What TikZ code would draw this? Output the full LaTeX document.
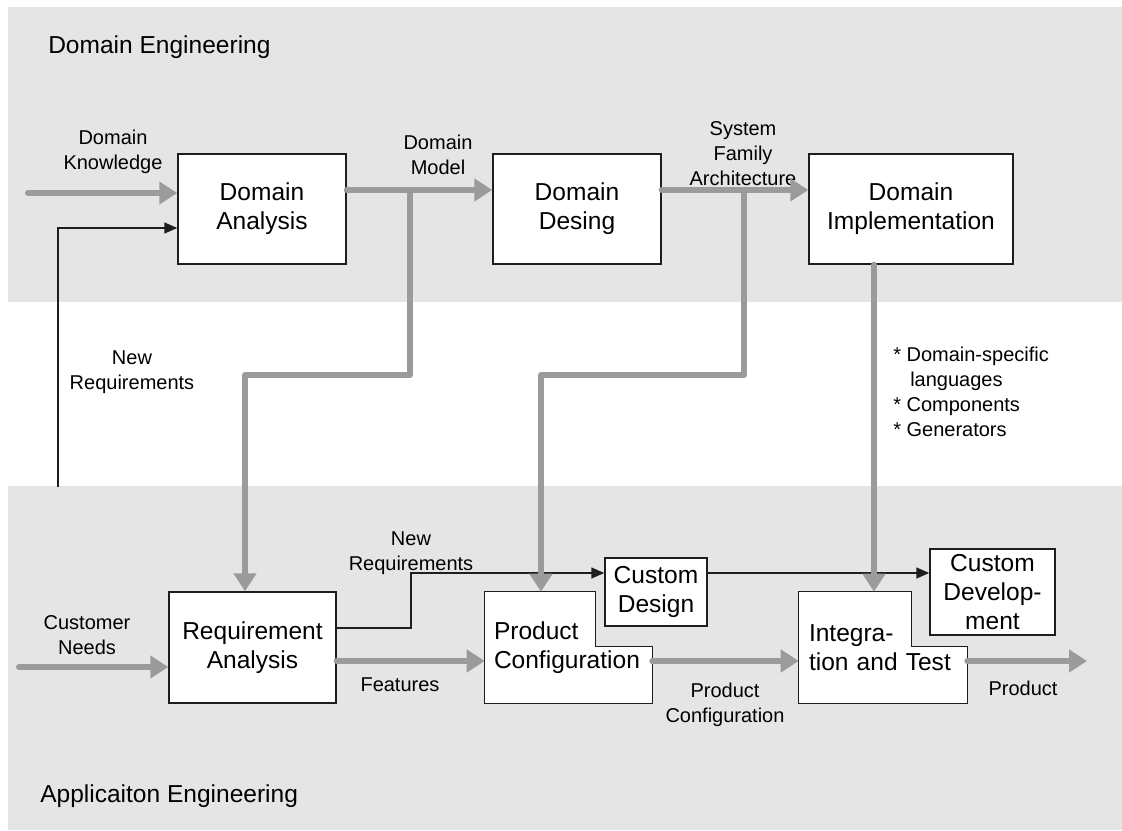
\documentclass[tikz,border=0pt]{standalone}
\usepackage{fontspec}
\setmainfont{Liberation Sans}
\usetikzlibrary{arrows.meta,calc}

\definecolor{bandgray}{RGB}{229,229,229}
\definecolor{flowgray}{RGB}{155,155,155}
\definecolor{edgeblack}{RGB}{30,30,30}

\newcommand\boxfont{\fontsize{18.4}{21.8}\selectfont}
\newcommand\lblfont{\fontsize{15}{18.75}\selectfont}

\pgfdeclarelayer{bands}
\pgfdeclarelayer{outlines}
\pgfsetlayers{bands,outlines,main}

\tikzset{
  boxsize/.style 2 args={minimum width=#1*0.75pt, minimum height=#2*0.75pt},
  stepbox/.style={draw=edgeblack, fill=white, line width=1.1pt, inner sep=0pt,
                  align=center, font=\boxfont},
  notchtext/.style={inner xsep=#1*0.75pt, inner ysep=0pt, align=left, font=\boxfont},
  notchline/.style={draw=edgeblack, fill=white, line width=1.1pt, line join=miter},
  lbl/.style={inner sep=0pt, align=center, font=\lblfont},
  bandtitle/.style={inner sep=0pt, anchor=west, font=\boxfont},
  flowarrow/.style={draw=flowgray, line width=4.5pt, line cap=round, line join=round,
                    -{Triangle[length=13.5pt,width=16.5pt]}},
  signal/.style={draw=edgeblack, line width=1.1pt,
                 -{Triangle[length=9.75pt,width=8.25pt]}},
}

\begin{document}
\begin{tikzpicture}[x=0.75pt,y=-0.75pt]
\useasboundingbox (0,0) rectangle (1122,831);

% the two engineering bands
\begin{pgfonlayer}{bands}
  \fill[white] (0,0) rectangle (1122,831);
  \fill[bandgray] (8,7) rectangle (1122,302);
  \fill[bandgray] (8,486) rectangle (1122,830);
\end{pgfonlayer}

\node[bandtitle] (deng) at (48,47) {Domain Engineering};
\node[bandtitle] (aeng) at (40,796) {Applicaiton Engineering};

% domain engineering steps
\node[stepbox, boxsize={168}{110}] (da) at (262,209) {Domain\\Analysis};
\node[stepbox, boxsize={168}{110}] (dd) at (577,209) {Domain\\Desing};
\node[stepbox, boxsize={204}{110}] (di) at (911,209) {Domain\\Implementation};

% application engineering steps
\node[stepbox, boxsize={167}{111}] (ra) at (252.5,647.5) {Requirement\\Analysis};
\node[notchtext=9, boxsize={167}{111}, text width=149*0.75pt] (pc) at (568.5,647.5) {Product\\Configuration};
\node[stepbox, boxsize={102}{68}] (cd) at (656,592) {Custom\\Design};
\node[notchtext=10, boxsize={168}{111}, text width=148*0.75pt] (it) at (883,647.5) {Integra-\\tion and Test};
\node[stepbox, boxsize={125}{86}] (cdev) at (992.5,592) {Custom\\Develop-\\ment};

% outlines of the two boxes with a cut corner
\begin{pgfonlayer}{outlines}
  \draw[notchline] (pc.north west) -- ++(111,0) |- ($(pc.north east)+(0,55)$)
        -- (pc.south east) -- (pc.south west) -- cycle;
  \draw[notchline] (it.north west) -- ++(113,0) |- ($(it.north east)+(0,55)$)
        -- (it.south east) -- (it.south west) -- cycle;
\end{pgfonlayer}

% labels
\node[lbl] (dklbl) at (113,152) {Domain\\Knowledge};
\node[lbl] (dmlbl) at (438,154.5) {Domain\\Model};
\node[lbl] (sfalbl) at (743,154) {System\\Family\\Architecture};
\node[lbl] (nrlbl) at (132,372) {New\\Requirements};
\node[lbl, anchor=west, align=left] (assets) at (893,392)
  {* Domain-specific\\\hspace*{12.75pt}languages\\* Components\\* Generators};
\node[lbl] (cnlbl) at (87,635) {Customer\\Needs};
\node[lbl] (nr2lbl) at (411,553) {New\\Requirements};
\node[lbl] (ftlbl) at (400,685) {Features};
\node[lbl] (pclbl) at (725,704.5) {Product\\Configuration};
\node[lbl] (prlbl) at (1023,688) {Product};

% helper coordinates for the lanes
\coordinate (dkin) at (28,193);
\coordinate (toplane) at (0,190);
\coordinate (dmtap) at (410,190);
\coordinate (dmjog) at (245,375);
\coordinate (sfatap) at (744,190);
\coordinate (sfajog) at (541,375);
\coordinate (ditap) at (874,0);
\coordinate (cnin) at (19,667);
\coordinate (midlane) at (0,661);
\coordinate (prodout) at (1087,661);
\coordinate (fbfoot) at (58,487);
\coordinate (fblane) at (0,228);
\coordinate (nrout) at (0,628);
\coordinate (nrlane) at (0,573);
\coordinate (nrbend) at (411,0);

% thin requirement paths
\draw[signal] (fbfoot) |- (da.west |- fblane);
\draw[signal] (ra.east |- nrout) -| (nrbend |- nrlane) -- (cd.west |- nrlane);
\draw[signal] (cd.east |- nrlane) -- (cdev.west |- nrlane);

% main flows
\draw[flowarrow] (dkin) -- (dkin -| da.west);
\draw[flowarrow] (da.east |- toplane) -- (dd.west |- toplane);
\draw[flowarrow] (dd.east |- toplane) -- (di.west |- toplane);
\draw[flowarrow] (dmtap) |- (dmjog) -- (dmjog |- ra.north);
\draw[flowarrow] (sfatap) |- (sfajog) -- (sfajog |- pc.north);
\draw[flowarrow] (ditap |- di.south) -- (ditap |- it.north);
\draw[flowarrow] (cnin) -- (cnin -| ra.west);
\draw[flowarrow] (ra.east |- midlane) -- (pc.west |- midlane);
\draw[flowarrow] (pc.east |- midlane) -- (it.west |- midlane);
\draw[flowarrow] (it.east |- midlane) -- (prodout);
\end{tikzpicture}
\end{document}
